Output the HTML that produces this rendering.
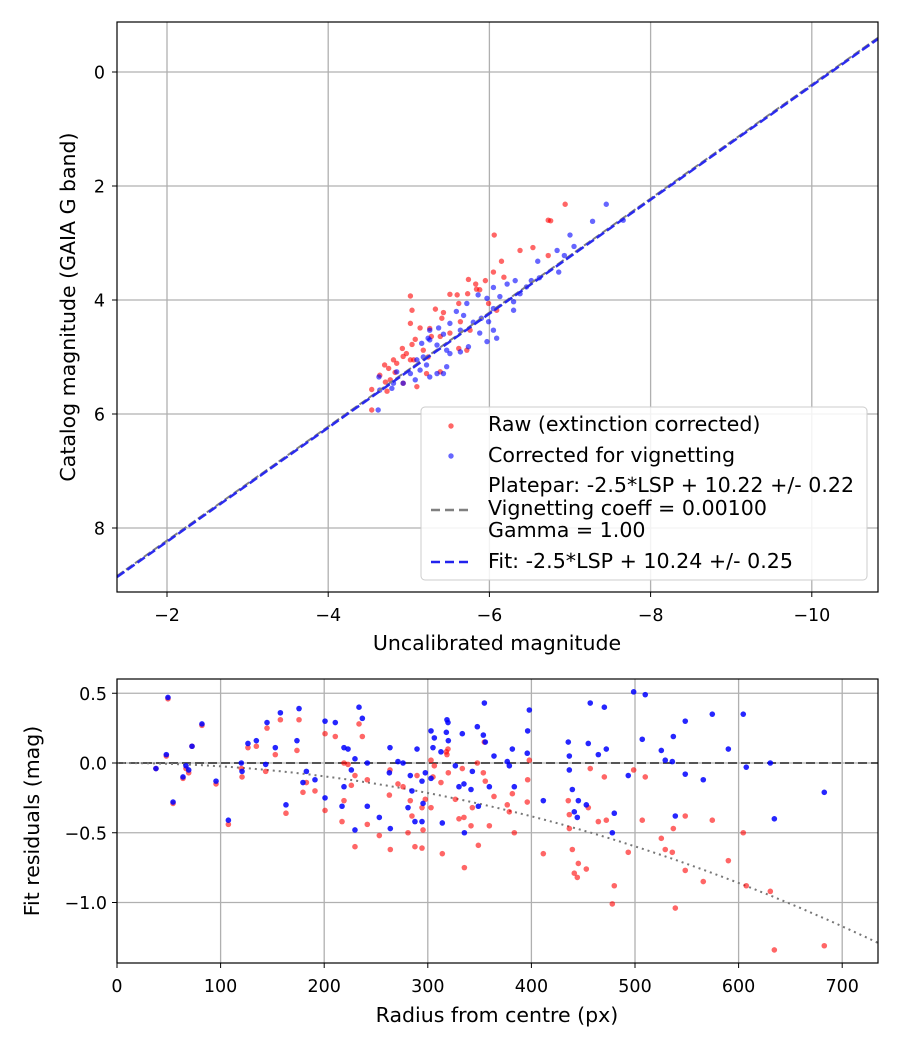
<!DOCTYPE html>
<html><head><meta charset="utf-8"><style>
body{margin:0;background:#fff;}
svg{display:block;font-family:"DejaVu Sans","Liberation Sans",sans-serif;}
</style></head><body>
<svg id="chart" width="900" height="1050" xmlns="http://www.w3.org/2000/svg"></svg>
<script>
// ---- top panel data: [uncalibrated, catalog]
const rawX=[-6.94,-6.73,-6.76,-6.06,-6.38,-6.54,-6.73,-6.15,-6.05,-6.18,-5.74,-5.95,-5.83,-5.84,-5.51,-5.60,-5.73,-5.02,-5.88,-5.99,-5.04,-5.33,-5.43,-5.62,-5.41,-5.02,-5.14,-5.26,-5.64,-5.76,-5.51,-5.39,-5.08,-5.04,-4.92,-4.97,-4.93,-5.02,-4.85,-4.70,-4.75,-4.83,-4.77,-4.71,-4.54,-4.73,-4.54,-5.22,-5.39,-4.93,-5.06,-5.18,-5.28,-5.72,-5.62,-6.09,-5.24,-4.81,-4.64,-5.10];
const rawY=[2.32,2.60,2.61,2.86,3.13,3.08,3.22,3.32,3.51,3.60,3.64,3.66,3.72,3.81,3.90,3.91,3.89,3.93,3.82,4.06,4.18,4.16,4.22,4.06,4.32,4.41,4.49,4.50,4.38,4.53,4.58,4.64,4.69,4.78,4.85,4.94,4.99,5.05,5.11,5.14,5.20,5.27,5.40,5.44,5.57,5.60,5.93,5.29,5.26,5.46,5.05,4.88,4.64,4.88,4.85,4.18,5.00,5.05,5.32,5.52];
const corX=[-7.45,-7.28,-7.66,-7.00,-7.05,-6.84,-6.93,-6.60,-6.86,-6.62,-6.52,-6.32,-6.22,-6.46,-6.38,-6.30,-6.30,-6.05,-5.97,-6.13,-5.86,-5.72,-5.59,-5.68,-5.80,-5.90,-5.99,-6.05,-6.09,-5.97,-5.51,-5.37,-5.43,-5.64,-5.26,-5.26,-5.35,-5.47,-5.51,-5.74,-5.64,-5.18,-5.10,-5.22,-5.14,-5.02,-4.85,-4.93,-5.08,-4.79,-4.64,-4.62,-4.81,-5.47,-5.35,-5.43,-5.26,-4.63,-5.16,-5.24,-5.88,-6.05];
const corY=[2.32,2.62,2.60,2.86,3.06,3.13,3.22,3.32,3.51,3.61,3.66,3.66,3.72,3.77,3.89,4.03,4.18,3.78,3.97,3.94,3.91,4.06,4.20,4.27,4.39,4.32,4.38,4.53,4.67,4.73,4.41,4.49,4.60,4.53,4.53,4.70,4.79,4.88,4.94,4.82,4.91,5.00,5.05,5.14,5.23,5.29,5.26,5.46,5.40,5.55,5.58,5.93,5.46,5.17,5.29,5.29,5.35,5.35,4.76,4.67,4.58,4.15];
const fitZero=10.24, plateZero=10.22;
const topXTicks=[-2,-4,-6,-8,-10], topYTicks=[0,2,4,6,8];
// ---- bottom panel data
const radius=[49.2,82.0,72.4,47.6,37.6,66.6,69.2,63.7,54.1,95.6,107.5,120.0,120.7,126.4,134.5,144.8,157.7,152.8,143.5,163.1,173.7,175.7,182.8,179.5,191.1,200.8,210.7,200.8,219.1,223.0,229.7,226.2,219.1,217.2,229.7,233.6,236.8,241.6,241.6,253.2,263.5,262.9,263.8,271.2,276.1,289.6,283.1,284.7,280.9,287.6,294.4,295.4,294.4,297.6,303.1,306.3,305.0,303.1,312.7,314.0,317.9,318.5,319.5,319.8,326.6,330.1,334.9,333.3,335.3,341.7,343.0,347.8,353.6,354.6,355.5,348.8,359.4,363.9,376.7,378.7,381.6,383.5,396.0,396.4,398.0,411.5,435.6,436.6,436.6,439.5,441.4,444.3,445.3,453.0,454.9,456.8,464.6,470.4,472.3,478.1,480.0,493.5,498.7,509.9,507.0,525.4,529.2,536.0,537.0,538.9,548.5,548.5,565.9,574.6,590.1,604.5,607.4,630.6,634.5,682.7];
const blueRes=[0.47,0.28,0.12,0.06,-0.04,-0.02,-0.05,-0.10,-0.28,-0.13,-0.41,0.00,-0.06,0.14,0.16,0.29,0.36,0.11,-0.01,-0.30,0.16,0.39,-0.06,-0.14,-0.12,0.30,0.29,-0.25,0.11,0.10,0.03,-0.05,-0.17,-0.31,-0.48,0.40,0.32,0.00,-0.31,-0.39,0.11,-0.07,-0.47,0.01,0.00,0.10,-0.09,-0.20,-0.32,-0.42,-0.42,-0.29,-0.13,-0.07,0.23,0.18,0.11,-0.11,0.08,-0.43,0.22,0.31,0.29,0.16,-0.02,-0.17,-0.15,0.21,-0.50,-0.19,-0.06,0.26,0.20,0.43,0.15,-0.31,-0.17,0.05,0.01,-0.02,0.10,-0.17,0.07,0.23,0.38,-0.27,0.15,0.05,-0.05,-0.19,-0.35,-0.39,-0.27,-0.30,0.14,0.43,0.06,0.40,0.10,-0.50,-0.36,-0.09,0.51,0.49,0.17,0.09,0.02,0.01,0.19,-0.38,0.30,-0.08,-0.12,0.35,0.10,0.35,-0.03,0.00,-0.40,-0.21];
const redRes=[0.46,0.27,0.12,0.05,-0.04,-0.04,-0.07,-0.11,-0.29,-0.15,-0.44,-0.04,-0.10,0.11,0.12,0.25,0.31,0.06,-0.06,-0.36,0.09,0.31,-0.14,-0.21,-0.20,0.21,0.19,-0.34,0.00,-0.01,-0.09,-0.16,-0.27,-0.42,-0.60,0.28,0.19,-0.12,-0.44,-0.52,-0.05,-0.23,-0.62,-0.15,-0.17,-0.09,-0.27,-0.38,-0.50,-0.60,-0.61,-0.48,-0.32,-0.26,0.02,-0.02,-0.10,-0.32,-0.14,-0.65,0.08,0.06,0.10,-0.07,-0.26,-0.40,-0.39,-0.04,-0.75,-0.45,-0.32,0.00,-0.07,0.15,-0.13,-0.59,-0.45,-0.24,-0.30,-0.35,-0.22,-0.50,-0.28,-0.12,0.02,-0.65,-0.27,-0.37,-0.47,-0.62,-0.79,-0.82,-0.72,-0.76,-0.32,-0.04,-0.42,-0.10,-0.41,-1.01,-0.88,-0.64,-0.05,-0.10,-0.41,-0.54,-0.62,-0.64,-0.47,-1.04,-0.38,-0.77,-0.85,-0.41,-0.70,-0.50,-0.88,-0.92,-1.34,-1.31];
const vigCoeff=2.39e-6;
const botXTicks=[0,100,200,300,400,500,600,700], botYTicks=[0.5,0.0,-0.5,-1.0], botYLabels=["0.5","0.0","−0.5","−1.0"];

const NS="http://www.w3.org/2000/svg", svg=document.getElementById('chart');
function el(tag,attrs,parent,text){const e=document.createElementNS(NS,tag);for(const k in attrs)e.setAttribute(k,attrs[k]);if(text!==undefined)e.textContent=text;(parent||svg).appendChild(e);return e;}
const fmt=v=>(v<0?"−":"")+Math.abs(v);
const TF=17.5, LF=20.5, GF=20.6;
// top axes
const T={l:117,r:878,t:22,b:592};
const tx=v=>167+(-2-v)*80.6, ty=v=>72+v*57;
const gTop=el('g',{});  
el('rect',{x:T.l,y:T.t,width:T.r-T.l,height:T.b-T.t,fill:'#fff'},gTop);
topXTicks.forEach(v=>{const x=tx(v);
 const g=el('line',{x1:x,x2:x,y1:T.t,y2:T.b,stroke:'#b0b0b0','stroke-width':1.3},gTop);  
 el('line',{x1:x,x2:x,y1:T.b,y2:T.b+5,stroke:'#000','stroke-width':1},gTop);
 const t=el('text',{x:x,y:T.b+29,'text-anchor':'middle','font-size':TF},gTop,fmt(v));  });
topYTicks.forEach(v=>{const y=ty(v);
 const g=el('line',{x1:T.l,x2:T.r,y1:y,y2:y,stroke:'#b0b0b0','stroke-width':1.3},gTop);  
 el('line',{x1:T.l-5,x2:T.l,y1:y,y2:y,stroke:'#000','stroke-width':1},gTop);
 const t=el('text',{x:T.l-12,y:y+6.5,'text-anchor':'end','font-size':TF},gTop,fmt(v));  });
rawX.forEach((x,i)=>{const c=el('circle',{cx:tx(x),cy:ty(rawY[i]),r:2.7,fill:'#ff0000','fill-opacity':0.6},gTop);  });
corX.forEach((x,i)=>{const c=el('circle',{cx:tx(x),cy:ty(corY[i]),r:2.7,fill:'#0000ff','fill-opacity':0.6},gTop);  });
const xa=-1.38, xb=-10.82;
let ln=el('line',{x1:tx(xa),y1:ty(xa+plateZero),x2:tx(xb),y2:ty(xb+plateZero),stroke:'#808080','stroke-width':2,'stroke-dasharray':'8,3'},gTop);  
ln=el('line',{x1:tx(xa),y1:ty(xa+fitZero),x2:tx(xb),y2:ty(xb+fitZero),stroke:'#2222ee','stroke-width':2.5,'stroke-dasharray':'9,3.5','stroke-opacity':0.95},gTop);  
el('rect',{x:T.l,y:T.t,width:T.r-T.l,height:T.b-T.t,fill:'none',stroke:'#000','stroke-width':1.2},gTop);
let t=el('text',{x:497,y:650,'text-anchor':'middle','font-size':LF},gTop,'Uncalibrated magnitude');  
t=el('text',{x:0,y:0,'text-anchor':'middle','font-size':LF,transform:'translate(75,307) rotate(-90)'},gTop,'Catalog magnitude (GAIA G band)');  
// legend
const lg=el('g',{});  
el('rect',{x:421,y:407,width:446,height:173,rx:4,fill:'#fff','fill-opacity':0.85,stroke:'#ccc'},lg);
el('circle',{cx:451,cy:426,r:2.7,fill:'#ff0000','fill-opacity':0.6},lg);
el('text',{x:488,y:431,'font-size':GF},lg,'Raw (extinction corrected)');
el('circle',{cx:451,cy:456,r:2.7,fill:'#0000ff','fill-opacity':0.6},lg);
el('text',{x:488,y:462,'font-size':GF},lg,'Corrected for vignetting');
el('line',{x1:431,x2:471,y1:510,y2:510,stroke:'#808080','stroke-width':2.5,'stroke-dasharray':'9,5'},lg);
el('text',{x:488,y:492,'font-size':GF},lg,'Platepar: -2.5*LSP + 10.22 +/- 0.22');
el('text',{x:488,y:515,'font-size':GF},lg,'Vignetting coeff = 0.00100');
el('text',{x:488,y:537,'font-size':GF},lg,'Gamma = 1.00');
el('line',{x1:431,x2:471,y1:562,y2:562,stroke:'#2222ee','stroke-width':2.5,'stroke-dasharray':'9,5'},lg);
el('text',{x:488,y:568,'font-size':GF},lg,'Fit: -2.5*LSP + 10.24 +/- 0.25');
// bottom axes
const B={l:117,r:878,t:679,b:963};
const bx=v=>117+v*1.036, by=v=>763-v*139.5;
const gB=el('g',{});  
botXTicks.forEach(v=>{const x=bx(v);
 const g=el('line',{x1:x,x2:x,y1:B.t,y2:B.b,stroke:'#b0b0b0','stroke-width':1.3},gB);  
 el('line',{x1:x,x2:x,y1:B.b,y2:B.b+5,stroke:'#000'},gB);
 const tt=el('text',{x:x,y:B.b+29,'text-anchor':'middle','font-size':TF},gB,String(v));  });
botYTicks.forEach((v,i)=>{const y=by(v);
 const g=el('line',{x1:B.l,x2:B.r,y1:y,y2:y,stroke:'#b0b0b0','stroke-width':1.3},gB);  
 el('line',{x1:B.l-5,x2:B.l,y1:y,y2:y,stroke:'#000'},gB);
 const tt=el('text',{x:B.l-10,y:y+6.5,'text-anchor':'end','font-size':TF},gB,botYLabels[i]);  });
ln=el('line',{x1:B.l,x2:B.r,y1:by(0),y2:by(0),stroke:'#555','stroke-width':2,'stroke-dasharray':'9,4'},gB);  
let d='';for(let r=0;r<=735;r+=5){d+=(r?'L':'M')+bx(r).toFixed(1)+','+by(-vigCoeff*r*r).toFixed(1);}
ln=el('path',{d:d,fill:'none',stroke:'#777','stroke-width':2,'stroke-dasharray':'2,4'},gB);  
radius.forEach((r,i)=>{const c=el('circle',{cx:bx(r),cy:by(redRes[i]),r:2.8,fill:'#ff0000','fill-opacity':0.6},gB);  });
radius.forEach((r,i)=>{const c=el('circle',{cx:bx(r),cy:by(blueRes[i]),r:2.8,fill:'#0000ff','fill-opacity':0.85},gB);  });
el('rect',{x:B.l,y:B.t,width:B.r-B.l,height:B.b-B.t,fill:'none',stroke:'#000','stroke-width':1.2},gB);
t=el('text',{x:497,y:1022,'text-anchor':'middle','font-size':LF},gB,'Radius from centre (px)');  
t=el('text',{x:0,y:0,'text-anchor':'middle','font-size':LF,transform:'translate(39,821) rotate(-90)'},gB,'Fit residuals (mag)');  
</script>
</body></html>
